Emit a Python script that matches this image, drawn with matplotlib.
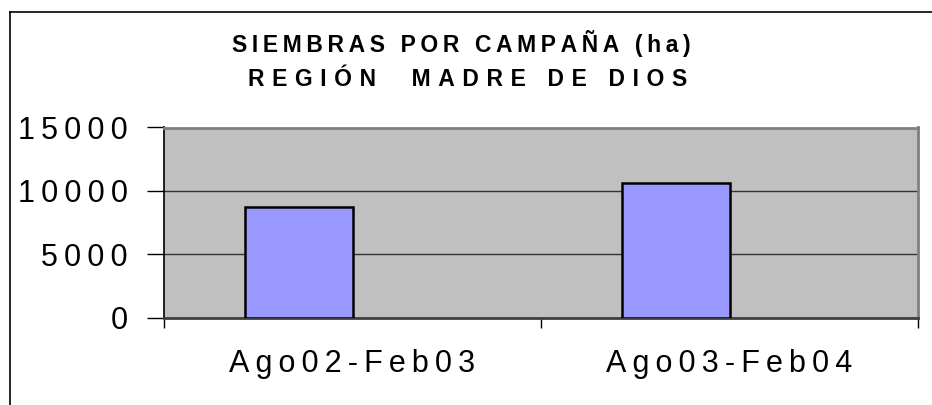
import numpy as np
import matplotlib
matplotlib.use('Agg')
import matplotlib.pyplot as plt
from matplotlib.lines import Line2D

# datos
campanas = ['Ago02-Feb03', 'Ago03-Feb04']
siembras = [8700, 10600]
y_ticks = [0, 5000, 10000, 15000]
titulo = ['SIEMBRAS POR CAMPAÑA (ha)', 'REGIÓN  MADRE DE DIOS']

FAM = ['Liberation Sans', 'DejaVu Sans']
plt.rcParams['font.family'] = FAM


def espaciar(txt, sep='\u2009'):
    """separa las letras como en el grafico original"""
    return sep.join(list(txt))


fig = plt.figure(figsize=(9.32, 4.05), dpi=100)
ax = fig.add_axes([164 / 932, 1 - 317.5 / 405, 754 / 932, 190 / 405])

# barras (hay una segunda serie vacia, por eso van desplazadas)
ancho = 1 / 3.5
x = np.arange(len(campanas))
ax.bar(x - ancho / 2, siembras, width=ancho, color='#9999FF',
       edgecolor='black', linewidth=1.8, zorder=3)

ax.set_facecolor('#C0C0C0')
ax.set_xlim(-0.5, len(campanas) - 0.5)
ax.set_ylim(0, 15000)
ax.set_yticks(y_ticks)
ax.set_yticklabels([espaciar(str(v)) for v in y_ticks], fontsize=22)
ax.yaxis.grid(True, color='#333333', linewidth=1.0, zorder=1)
ax.set_axisbelow(True)

# marcas del eje x en los limites de categoria
ax.set_xticks([-0.5, 0.5, 1.5])
ax.set_xticklabels([])
ax.set_xticks(x, minor=True)
ax.set_xticklabels([espaciar(c) for c in campanas], minor=True, fontsize=22)
ax.tick_params(axis='x', which='major', length=7, width=1.0, direction='out')
ax.tick_params(axis='x', which='minor', length=0, pad=23)
ax.tick_params(axis='y', length=12, width=1.0, direction='out', pad=14)

ax.spines['top'].set_color('#808080')
ax.spines['right'].set_color('#808080')
ax.spines['top'].set_linewidth(2)
ax.spines['right'].set_linewidth(2)
ax.spines['left'].set_color('black')
ax.spines['left'].set_linewidth(1.2)
ax.spines['bottom'].set_color('#404040')
ax.spines['bottom'].set_linewidth(2)

# titulo
fig.text(461 / 932, 1 - 43.5 / 405, espaciar(titulo[0]), ha='center', va='center',
         fontsize=16.5, fontweight='bold')
fig.text(468 / 932, 1 - 80 / 405, espaciar(titulo[1], '\u2004'), ha='center',
         va='center', fontsize=16.5, fontweight='bold')

# borde del area del grafico (cortado a la derecha y abajo)
fig.add_artist(Line2D([9.5 / 932, 9.5 / 932], [0, 1 - 12 / 405], color='black',
                      linewidth=1.2, transform=fig.transFigure))
fig.add_artist(Line2D([9.5 / 932, 1], [1 - 12 / 405, 1 - 12 / 405], color='black',
                      linewidth=1.2, transform=fig.transFigure))

fig.savefig('out.png', dpi=100)
